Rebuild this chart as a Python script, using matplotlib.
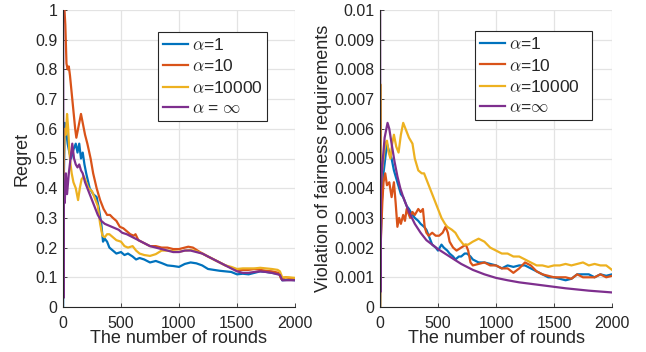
import matplotlib
matplotlib.use("Agg")
import matplotlib.pyplot as plt
from matplotlib.ticker import FixedLocator

plt.rcParams['font.family'] = ['Liberation Sans', 'DejaVu Sans']
plt.rcParams['mathtext.fontset'] = 'cm'

# ---------------- Left panel: Regret ----------------
reg_blue_x = [1, 8, 15, 25, 40, 55, 70, 90, 110, 125, 140, 155, 170, 185, 200, 230, 260, 290, 310, 330, 345, 360, 380, 400, 430, 460, 500, 530, 560, 600, 630, 660, 700, 750, 800, 850, 900, 950, 1000, 1050, 1100, 1150, 1200, 1250, 1300, 1350, 1400, 1450, 1500, 1550, 1600, 1650, 1700, 1750, 1800, 1850, 1870, 1890, 1950, 2000]
reg_blue_y = [0.0, 0.45, 0.62, 0.6, 0.55, 0.52, 0.5, 0.53, 0.55, 0.52, 0.55, 0.5, 0.52, 0.48, 0.45, 0.4, 0.38, 0.37, 0.33, 0.28, 0.22, 0.23, 0.22, 0.2, 0.19, 0.18, 0.185, 0.175, 0.18, 0.17, 0.16, 0.165, 0.16, 0.15, 0.155, 0.148, 0.14, 0.138, 0.135, 0.145, 0.15, 0.147, 0.14, 0.128, 0.125, 0.122, 0.12, 0.118, 0.11, 0.112, 0.11, 0.115, 0.12, 0.118, 0.115, 0.112, 0.11, 0.09, 0.092, 0.09]

reg_red_x = [1, 10, 20, 30, 40, 50, 60, 75, 90, 105, 115, 130, 145, 155, 170, 190, 210, 238, 260, 290, 320, 350, 380, 405, 430, 460, 490, 520, 550, 580, 610, 625, 650, 700, 750, 800, 850, 900, 950, 1000, 1050, 1080, 1120, 1180, 1250, 1300, 1350, 1400, 1450, 1500, 1550, 1600, 1650, 1700, 1750, 1800, 1860, 1880, 1920, 1960, 2000]
reg_red_y = [1.08, 1.02, 0.95, 0.82, 0.8, 0.81, 0.78, 0.72, 0.66, 0.6, 0.57, 0.6, 0.63, 0.65, 0.62, 0.58, 0.55, 0.5, 0.45, 0.4, 0.36, 0.33, 0.31, 0.31, 0.3, 0.29, 0.27, 0.265, 0.255, 0.245, 0.24, 0.245, 0.225, 0.215, 0.205, 0.205, 0.2, 0.2, 0.195, 0.195, 0.2, 0.203, 0.2, 0.185, 0.17, 0.16, 0.15, 0.14, 0.132, 0.125, 0.125, 0.125, 0.128, 0.125, 0.122, 0.12, 0.115, 0.095, 0.1, 0.097, 0.096]

reg_yel_x = [1, 8, 15, 25, 35, 45, 55, 65, 75, 90, 110, 130, 145, 160, 180, 200, 220, 250, 280, 300, 320, 340, 360, 380, 400, 430, 460, 500, 530, 560, 600, 630, 660, 700, 750, 800, 850, 900, 950, 1000, 1050, 1100, 1150, 1200, 1250, 1300, 1350, 1400, 1450, 1500, 1550, 1600, 1650, 1700, 1750, 1800, 1850, 1870, 1890, 1950, 2000]
reg_yel_y = [0.3, 0.5, 0.6, 0.58, 0.65, 0.6, 0.52, 0.48, 0.45, 0.42, 0.4, 0.36, 0.4, 0.43, 0.44, 0.42, 0.4, 0.39, 0.36, 0.34, 0.28, 0.24, 0.235, 0.245, 0.245, 0.235, 0.225, 0.22, 0.205, 0.2, 0.205, 0.19, 0.18, 0.175, 0.172, 0.178, 0.19, 0.19, 0.188, 0.186, 0.19, 0.192, 0.188, 0.18, 0.17, 0.16, 0.15, 0.14, 0.135, 0.128, 0.13, 0.13, 0.13, 0.132, 0.13, 0.128, 0.125, 0.12, 0.1, 0.1, 0.098]

reg_pur_x = [1, 4, 8, 15, 25, 35, 50, 65, 80, 95, 110, 125, 140, 155, 170, 190, 210, 240, 270, 300, 330, 360, 390, 420, 450, 480, 510, 550, 600, 650, 700, 750, 800, 850, 900, 950, 1000, 1050, 1100, 1150, 1200, 1250, 1300, 1350, 1400, 1450, 1500, 1550, 1600, 1650, 1700, 1750, 1800, 1850, 1870, 1890, 1950, 2000]
reg_pur_y = [1.0, 0.03, 0.4, 0.35, 0.45, 0.38, 0.45, 0.5, 0.55, 0.5, 0.48, 0.47, 0.48, 0.46, 0.45, 0.42, 0.4, 0.37, 0.34, 0.31, 0.29, 0.28, 0.275, 0.27, 0.265, 0.26, 0.25, 0.245, 0.235, 0.225, 0.215, 0.205, 0.2, 0.195, 0.19, 0.185, 0.185, 0.19, 0.19, 0.185, 0.18, 0.17, 0.16, 0.15, 0.14, 0.13, 0.12, 0.115, 0.115, 0.118, 0.12, 0.118, 0.115, 0.11, 0.108, 0.09, 0.09, 0.09]

# ---------------- Right panel: Violation ----------------
vio_blue_x = [1, 5, 15, 30, 45, 60, 80, 100, 120, 150, 180, 200, 230, 250, 280, 300, 330, 350, 380, 400, 430, 450, 480, 500, 530, 550, 580, 600, 630, 650, 680, 700, 730, 750, 780, 800, 850, 900, 950, 1000, 1050, 1100, 1150, 1200, 1250, 1300, 1350, 1400, 1450, 1500, 1550, 1600, 1650, 1700, 1750, 1800, 1850, 1900, 1950, 2000]
vio_blue_y = [0.0, 0.002, 0.0035, 0.0045, 0.005, 0.0055, 0.0052, 0.005, 0.0046, 0.0042, 0.0038, 0.0037, 0.0034, 0.0033, 0.0031, 0.003, 0.0029, 0.0028, 0.0027, 0.0026, 0.0023, 0.0021, 0.002, 0.0019, 0.0021, 0.002, 0.0019, 0.0018, 0.0017, 0.0016, 0.0017, 0.0017, 0.0018, 0.0018, 0.0017, 0.0016, 0.0015, 0.0015, 0.00145, 0.0014, 0.0013, 0.0014, 0.00135, 0.0014, 0.0014, 0.0013, 0.0012, 0.0011, 0.001, 0.001, 0.00095, 0.0009, 0.00095, 0.0011, 0.0011, 0.0011, 0.001, 0.0011, 0.00105, 0.0011]

vio_red_x = [1, 5, 10, 20, 30, 45, 60, 80, 100, 120, 135, 150, 165, 180, 200, 215, 230, 260, 280, 300, 330, 350, 370, 385, 400, 420, 450, 480, 510, 540, 565, 585, 600, 630, 660, 700, 740, 760, 780, 800, 850, 900, 950, 1000, 1050, 1100, 1150, 1200, 1250, 1300, 1350, 1400, 1450, 1500, 1550, 1600, 1650, 1700, 1750, 1800, 1850, 1900, 1950, 2000]
vio_red_y = [0.0, 0.002, 0.0025, 0.0035, 0.0042, 0.0045, 0.0041, 0.0042, 0.0037, 0.0042, 0.0035, 0.0027, 0.003, 0.0028, 0.0031, 0.0029, 0.0033, 0.003, 0.0032, 0.0031, 0.0033, 0.0032, 0.0033, 0.0027, 0.0025, 0.0024, 0.0025, 0.0024, 0.0024, 0.0025, 0.0027, 0.0025, 0.0022, 0.002, 0.0019, 0.002, 0.0021, 0.0019, 0.0015, 0.0014, 0.00145, 0.0015, 0.0014, 0.0014, 0.0013, 0.0013, 0.00115, 0.0013, 0.0015, 0.0014, 0.0012, 0.0011, 0.00105, 0.001, 0.001, 0.001, 0.00095, 0.0011, 0.001, 0.001, 0.001, 0.0011, 0.001, 0.00105]

vio_yel_x = [1, 3, 6, 15, 30, 45, 60, 75, 90, 105, 120, 140, 160, 180, 200, 220, 250, 280, 300, 330, 360, 380, 400, 430, 460, 480, 510, 530, 560, 580, 620, 650, 680, 720, 760, 800, 850, 900, 950, 1000, 1050, 1100, 1150, 1200, 1250, 1300, 1350, 1400, 1450, 1500, 1550, 1600, 1650, 1700, 1750, 1800, 1850, 1900, 1950, 2000]
vio_yel_y = [0.0, 0.0075, 0.004, 0.0045, 0.005, 0.0055, 0.0056, 0.0052, 0.005, 0.0055, 0.0058, 0.0054, 0.0052, 0.0058, 0.0062, 0.006, 0.0057, 0.0055, 0.005, 0.0046, 0.0045, 0.0045, 0.0043, 0.004, 0.0037, 0.0035, 0.0032, 0.003, 0.0028, 0.0027, 0.0026, 0.0025, 0.0023, 0.0021, 0.0021, 0.0022, 0.0023, 0.0022, 0.002, 0.0019, 0.0018, 0.0018, 0.0017, 0.0017, 0.0016, 0.0015, 0.0014, 0.0014, 0.00135, 0.0014, 0.0014, 0.00145, 0.0014, 0.00145, 0.0015, 0.0014, 0.00145, 0.0014, 0.0014, 0.00125]

vio_pur_x = [1, 3, 8, 15, 25, 40, 55, 65, 80, 100, 125, 150, 175, 200, 250, 300, 350, 400, 450, 500, 600, 700, 800, 900, 1000, 1100, 1200, 1300, 1400, 1500, 1600, 1700, 1800, 1900, 2000]
vio_pur_y = [0.01, 0.0005, 0.004, 0.0045, 0.005, 0.0057, 0.006, 0.0062, 0.006, 0.0055, 0.0049, 0.0044, 0.004, 0.0037, 0.0032, 0.0028, 0.0025, 0.00225, 0.0021, 0.00195, 0.0017, 0.00145, 0.00125, 0.0011, 0.00098, 0.0009, 0.00083, 0.00078, 0.00073, 0.00068, 0.00063, 0.00059, 0.00055, 0.00052, 0.00049]

colors = ['#0072BD', '#D95319', '#EDB120', '#7E2F8E']
left_labels = [r'$\alpha$=1', r'$\alpha$=10', r'$\alpha$=10000', r'$\alpha$ = $\infty$']
right_labels = [r'$\alpha$=1', r'$\alpha$=10', r'$\alpha$=10000', r'$\alpha$=$\infty$']

TXT = '#262626'
fig = plt.figure(figsize=(6.46, 3.52), dpi=100)
axL = fig.add_axes([63/646, 45/352, 232/646, 297/352])
axR = fig.add_axes([380/646, 45/352, 232/646, 297/352])

def style(ax):
    ax.set_xlim(0, 2000)
    ax.xaxis.set_major_locator(FixedLocator([0, 500, 1000, 1500, 2000]))
    ax.grid(True, color='#e3e3e3', linewidth=0.9)
    ax.set_axisbelow(True)
    for s in ['top', 'right']:
        ax.spines[s].set_visible(False)
    for s in ['left', 'bottom']:
        ax.spines[s].set_color(TXT)
        ax.spines[s].set_linewidth(0.8)
    ax.tick_params(direction='in', length=3, width=0.6, colors=TXT,
                   labelsize=11.5, labelcolor=TXT)
    ax.tick_params(axis='x', pad=6.5)
    ax.tick_params(axis='y', pad=4)
    ax.set_xlabel('The number of rounds', fontsize=13, color=TXT, labelpad=-1)

def legend(ax, labels, bbox):
    leg = ax.legend(labels=labels, loc='upper left', bbox_to_anchor=bbox, mode='expand',
                    fontsize=12.5, fancybox=False, edgecolor=TXT, framealpha=1,
                    handlelength=1.45, handletextpad=0.2, borderpad=0.3, labelspacing=0.3,
                    borderaxespad=0)
    leg.get_frame().set_linewidth(0.8)
    for t in leg.get_texts():
        t.set_color(TXT)
    return leg

for xs, ys, c in zip([reg_blue_x, reg_red_x, reg_yel_x, reg_pur_x],
                     [reg_blue_y, reg_red_y, reg_yel_y, reg_pur_y], colors):
    axL.plot(xs, ys, color=c, linewidth=1.6)
axL.set_ylim(0, 1)
axL.yaxis.set_major_locator(FixedLocator([i / 10 for i in range(11)]))
axL.set_yticklabels(['0'] + ['0.%d' % i for i in range(1, 10)] + ['1'])
style(axL)
axL.set_ylabel('Regret', fontsize=13, color=TXT, labelpad=3)
legend(axL, left_labels, (0.409, 0.5, 0.47, 0.426))

for xs, ys, c in zip([vio_blue_x, vio_red_x, vio_yel_x, vio_pur_x],
                     [vio_blue_y, vio_red_y, vio_yel_y, vio_pur_y], colors):
    axR.plot(xs, ys, color=c, linewidth=1.6)
axR.set_ylim(0, 0.01)
axR.yaxis.set_major_locator(FixedLocator([i / 1000 for i in range(11)]))
axR.set_yticklabels(['0'] + ['0.%03d' % i for i in range(1, 10)] + ['0.01'])
style(axR)
axR.set_ylabel('Violation of fairness requirements', fontsize=13, color=TXT, labelpad=2)
legend(axR, right_labels, (0.409, 0.5, 0.504, 0.429))

fig.savefig('out.png', dpi=100)
